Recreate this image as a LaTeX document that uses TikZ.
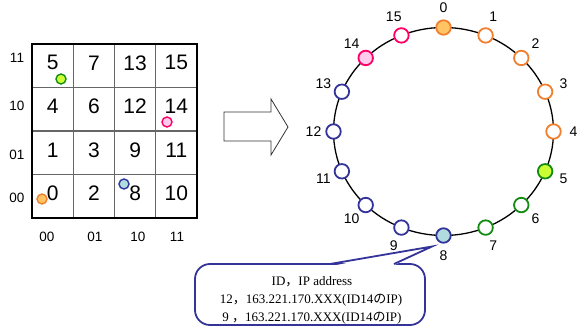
\documentclass[tikz,border=0pt]{standalone}
\usepackage{fontspec}
\usetikzlibrary{calc}
\setmainfont{Liberation Sans}
\newfontfamily\serifjp{Liberation Serif}
\newfontfamily\cjk{Noto Sans CJK JP}
\definecolor{ringorange}{RGB}{240,128,48}
\definecolor{fillorange}{RGB}{255,196,100}
\definecolor{ringgreen}{RGB}{20,140,20}
\definecolor{fillgreen}{RGB}{204,255,51}
\definecolor{ringblue}{RGB}{51,51,153}
\definecolor{fillblue}{RGB}{176,220,224}
\definecolor{ringpink}{RGB}{255,0,102}
\definecolor{fillpink}{RGB}{255,204,238}
\newcommand{\wcomma}{{\cjk ，}}
\tikzset{
  peer/.style={circle, draw, line width=1.8pt, minimum size=14.5pt, inner sep=0pt, fill=white},
  dot/.style={circle, draw, line width=1.4pt, minimum size=10pt, inner sep=0pt},
  cellnum/.style={font=\fontsize{21}{23}\selectfont, inner sep=0pt},
  axislab/.style={font=\fontsize{13.5}{15}\selectfont, inner sep=0pt},
  idlab/.style={font=\fontsize{14}{16}\selectfont, inner sep=0pt},
  callout/.style={draw=ringblue, line width=1.8pt},
  calltext/.style={font=\serifjp\fontsize{13}{15}\selectfont, inner sep=0pt}
}
\begin{document}
\begin{tikzpicture}[x=1pt,y=-1pt]
\useasboundingbox (0,0) rectangle (578,328);

% ---- 4x4 grid of IDs ----
\foreach \xx in {73.25,114.5,155.75}
  \draw[gray!80!black, line width=1.1pt] (\xx,44) -- (\xx,218);
\foreach \yy in {87.5,131,174.5}
  \draw[gray!80!black, line width=1.1pt] (32,\yy) -- (197,\yy);
\draw[line width=1.8pt] (32,44) rectangle (197,218);

\foreach \v/\c/\r in {5/0/0,7/1/0,13/2/0,15/3/0,
                      4/0/1,6/1/1,12/2/1,14/3/1,
                      1/0/2,3/1/2,9/2/2,11/3/2,
                      0/0/3,2/1/3,8/2/3,10/3/3}
  \node[cellnum] (c\v) at ({52.6+41.25*\c},{62.8+43.5*\r}) {\v};

% row and column bit labels
\node[axislab] (r11) at (17,58) {11};
\node[axislab] (r10) at (17,106) {10};
\node[axislab] (r01) at (17,155) {01};
\node[axislab] (r00) at (17,198) {00};
\node[axislab] (k00) at (47,237) {00};
\node[axislab] (k01) at (95,237) {01};
\node[axislab] (k10) at (138,237) {10};
\node[axislab] (k11) at (177,237) {11};

% peers placed in the grid
\node[dot, draw=ringgreen, fill=fillgreen] (g5) at (61,79) {};
\node[dot, draw=ringpink, fill=fillpink] (g14) at (167,122) {};
\node[dot, draw=ringblue, fill=fillblue] (g8) at (124,184) {};
\node[dot, draw=ringorange, fill=fillorange] (g0) at (42,199) {};

% ---- block arrow ----
\draw[line width=0.8pt, black!80] (224,112) -- (271,112) -- (271,99) -- (288,127)
  -- (271,155) -- (271,141) -- (224,141) -- cycle;

% ---- ID ring ----
\coordinate (ctr) at (443.5,131.5);
\draw[line width=1.3pt] (ctr) ellipse [x radius=110, y radius=104];

\foreach \k in {0,...,15} {
  \pgfmathsetmacro{\ang}{90-22.5*\k}
  \coordinate (p\k) at ($(ctr)+({110*cos(\ang)},{-104*sin(\ang)})$);
  \node[idlab] (l\k) at ($(ctr)+({130*cos(\ang)},{-124*sin(\ang)})$) {\k};
}
\foreach \k in {1,2,3,4}
  \node[peer, draw=ringorange] (n\k) at (p\k) {};
\node[peer, draw=ringorange, fill=fillorange] (n0) at (p0) {};
\node[peer, draw=ringgreen, fill=fillgreen] (n5) at (p5) {};
\foreach \k in {6,7}
  \node[peer, draw=ringgreen] (n\k) at (p\k) {};
\node[peer, draw=ringblue, fill=fillblue] (n8) at (p8) {};
\foreach \k in {9,...,13}
  \node[peer, draw=ringblue] (n\k) at (p\k) {};
\node[peer, draw=ringpink, fill=fillpink] (n14) at (p14) {};
\node[peer, draw=ringpink] (n15) at (p15) {};

% ---- speech balloon with the routing table ----
\coordinate (tip) at (432,246.5);
\draw[callout, rounded corners=15pt] (195,264) rectangle (425,325);
\fill[white] (331.5,266) -- (tip) -- (392.5,266) -- cycle;
\draw[callout, line join=miter] (330,264) -- (tip) -- (394,264);
\node[calltext] (t1) at (312,282) {ID\wcomma IP address};
\node[calltext] (t2) at (311,300) {12\wcomma 163.221.170.XXX(ID14{\cjk の}IP)};
\node[calltext] (t3) at (312,318) {9 \wcomma 163.221.170.XXX(ID14{\cjk の}IP)};
\end{tikzpicture}
\end{document}
